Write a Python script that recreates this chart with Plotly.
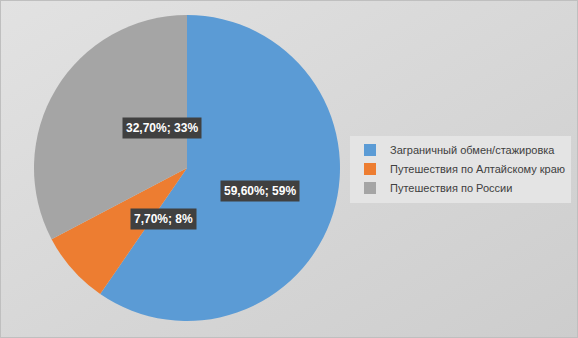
import math
import urllib.parse
import plotly.graph_objects as go

categories = ["Заграничный обмен/стажировка", "Путешествия по Алтайскому краю", "Путешествия по России"]
values = [59.6, 7.7, 32.7]
pct_labels = ["59%", "8%", "33%"]
colors = ["#5b9bd5", "#ed7d31", "#a5a5a5"]

W, H = 578, 338
cx, cy, r = 187, 168, 153

fig = go.Figure(go.Pie(
    labels=categories, values=values, sort=False, direction="clockwise", rotation=0,
    marker=dict(colors=colors, line=dict(width=0)), textinfo="none", hoverinfo="label+value",
    domain=dict(x=[(cx - r) / W, (cx + r) / W], y=[(H - cy - r) / H, (H - cy + r) / H]),
))

# data labels positioned at half radius along each slice's mid-angle
total = sum(values)
cum = 0
for v, p in zip(values, pct_labels):
    mid = (cum + v / 2) / total * 2 * math.pi
    cum += v
    px = cx + 0.5 * r * math.sin(mid)
    py = cy - 0.5 * r * math.cos(mid)
    txt = f"{v:.2f}".replace(".", ",") + "%; " + p
    fig.add_annotation(x=px / W, y=1 - py / H, xref="paper", yref="paper", text=txt,
                       showarrow=False, bgcolor="#404040", borderpad=3,
                       font=dict(family="Liberation Sans, Arial", size=12, color="white", weight="bold"))

svg = ('<svg xmlns="http://www.w3.org/2000/svg" width="578" height="338">'
       '<defs><linearGradient id="g" x1="0" y1="0" x2="1" y2="1">'
       '<stop offset="0" stop-color="#e2e2e2"/><stop offset="1" stop-color="#cdcdcd"/>'
       '</linearGradient></defs><rect width="578" height="338" fill="url(#g)"/>'
       '<rect x="0.5" y="0.5" width="577" height="337" fill="none" stroke="#bfbfbf"/></svg>')
fig.add_layout_image(source="data:image/svg+xml;charset=utf-8," + urllib.parse.quote(svg),
                     xref="paper", yref="paper", x=0, y=1, sizex=1, sizey=1,
                     xanchor="left", yanchor="top", sizing="stretch", layer="below")

fig.update_layout(
    width=W, height=H, margin=dict(l=0, r=0, t=0, b=0),
    paper_bgcolor="#d6d6d6",
    showlegend=True,
    legend=dict(x=350 / W, y=0.5, xanchor="left", yanchor="middle",
                bgcolor="#e4e4e4", font=dict(family="Liberation Sans, Arial", size=11, color="#404040"),
                itemwidth=30, tracegroupgap=0),
)
fig.write_html("out.html", config={"displayModeBar": False},
               post_script="document.body.style.margin='0';")
